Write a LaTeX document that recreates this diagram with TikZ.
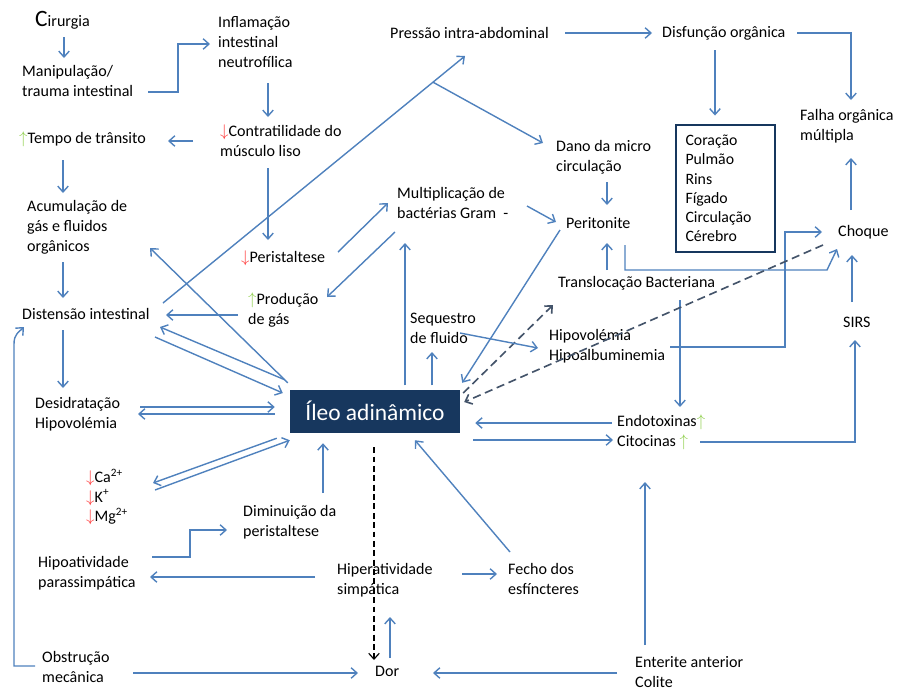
\documentclass[tikz,border=0pt]{standalone}
\usepackage{fontspec}
\setmainfont{Carlito}
\usetikzlibrary{arrows.meta, calc}
\definecolor{linkblue}{HTML}{4F81BD}
\definecolor{navy}{HTML}{17375E}
\definecolor{dashgrey}{HTML}{44546A}
\definecolor{arrred}{HTML}{FF3B3B}
\definecolor{arrgreen}{HTML}{92D050}
\newcommand{\txt}{\fontsize{13.7}{17}\selectfont}
\newcommand{\arrdn}{\textcolor{arrred}{$\downarrow$}}
\newcommand{\arrup}{\textcolor{arrgreen}{$\uparrow$}}
\tikzstyle{lbl}=[anchor=west, inner sep=0pt, align=left, font=\txt]
\tikzstyle{conn}=[draw=linkblue, line width=1.2pt]
\tikzstyle{dashconn}=[draw=dashgrey, line width=1.4pt, dash pattern=on 7pt off 4pt]
\tikzstyle{darkdash}=[draw=black, line width=1pt, dash pattern=on 5pt off 3pt]

\begin{document}
\begin{tikzpicture}[x=0.03cm, y=-0.03cm, >={Straight Barb[length=5pt,width=9pt]}]
  \useasboundingbox (0,0) rectangle (898,690);
  \node[lbl] (cir) at (35,20) {{\fontsize{20}{20}\selectfont C}irurgia};
  \node[lbl] (manip) at (22,81) {Manipulação/\\trauma intestinal};
  \node[lbl] (infl) at (218,42) {Inflamação\\intestinal\\neutrofílica};
  \node[lbl] (contr) at (220,141) {\arrdn Contratilidade do\\músculo liso};
  \node[lbl] (tempo) at (19,139) {\arrup Tempo de trânsito};
  \node[lbl] (acum) at (27,227) {Acumulação de\\gás e fluidos\\orgânicos};
  \node[lbl] (dist) at (22,314) {Distensão intestinal};
  \node[lbl] (desid) at (35,414) {Desidratação\\Hipovolémia};
  \node[lbl] (ions) at (86,497) {\arrdn Ca\textsuperscript{2+}\\\arrdn K\textsuperscript{+}\\\arrdn Mg\textsuperscript{2+}};
  \node[lbl] (dimin) at (243,522) {Diminuição da\\peristaltese};
  \node[lbl] (hipoa) at (38,573) {Hipoatividade\\parassimpática};
  \node[lbl] (obst) at (42,667) {Obstrução\\mecânica};
  \node[lbl] (dor) at (375,671) {Dor};
  \node[lbl] (hiper) at (337,580) {Hiperatividade\\simpática};
  \node[lbl] (fecho) at (508,579) {Fecho dos\\esfíncteres};
  \node[lbl] (enter) at (635,672) {Enterite anterior\\Colite};
  \node[lbl] (endo) at (617,432.5) {Endotoxinas\arrup\\Citocinas \arrup};
  \node[lbl] (sirs) at (843,322) {SIRS};
  \node[lbl] (choque) at (838,232) {Choque};
  \node[lbl] (falha) at (800,126) {Falha orgânica\\múltipla};
  \node[lbl] (disf) at (662,33) {Disfunção orgânica};
  \node[lbl] (press) at (390,33) {Pressão intra-abdominal};
  \node[lbl] (dano) at (556,157) {Dano da micro\\circulação};
  \node[lbl] (perit) at (566,223) {Peritonite};
  \node[lbl] (mult) at (397,203) {Multiplicação de\\bactérias Gram~~-};
  \node[lbl] (perist) at (241,258) {\arrdn Peristaltese};
  \node[lbl] (prod) at (248,310) {\arrup Produção\\de gás};
  \node[lbl] (transl) at (558,283) {Translocação Bacteriana};
  \node[lbl] (seq) at (410,328) {Sequestro\\de fluido};
  \node[lbl] (hipov) at (549,346) {Hipovolémia\\Hipoalbuminemia};
  \node[fill=navy, text=white, minimum width=5.1cm, minimum height=1.29cm, inner sep=0pt,
        font=\fontsize{20}{24}\selectfont] (ileo) at (375,411) {Íleo adinâmico};
  \node[draw=navy, line width=2.5pt, text width=2.4cm, inner xsep=0.285cm, minimum height=3.81cm,
        align=left, font=\fontsize{13.5}{16.4}\selectfont] (orgaos) at (725.5,188.5)
        {Coração\\Pulmão\\Rins\\Fígado\\Circulação\\Cérebro};

  % left column
  \draw[conn,->] ($(cir.west)+(29,17)$) -- ($(manip.west)+(42,-23)$);
  \draw[conn,->] ($(manip.west)+(126,11)$) -- ++(30,0) |- ($(infl.west)+(-8,2)$);
  \draw[conn,->] ($(infl.west)+(50,41)$) -- ($(contr.west)+(48,-24)$);
  \draw[conn,->] ($(contr.west)+(-27,0)$) -- ($(tempo.west)+(149,2)$);
  \draw[conn,->] ($(tempo.west)+(44,21)$) -- ($(acum.west)+(36,-34)$);
  \draw[conn,->] ($(acum.west)+(36,35)$) -- ($(dist.west)+(41,-16)$);
  \draw[conn,->] ($(dist.west)+(41,16)$) -- ($(desid.west)+(28,-26)$);
  \draw[conn,->] ($(contr.west)+(48,27)$) -- ($(perist.west)+(27,-18)$);
  \draw[conn,->] ($(obst.west)+(-7,-1)$) -| ($(dist.west)+(-8,30)$)
    .. controls +(0,-10) and +(-5,5) .. ($(dist.west)+(2,13)$);

  % pressure and organs
  \draw[conn,->] ($(dist.west)+(141,-11)$) -- coordinate[pos=0.894] (split) ($(press.west)+(75,23)$);
  \draw[conn,->] (split) -- ($(dano.west)+(-13,-14)$);
  \draw[conn,->] ($(press.west)+(175,0)$) -- ($(disf.west)+(-10,0)$);
  \draw[conn,->] ($(disf.west)+(53,17)$) -- ($(orgaos.north)+(-10.5,-8)$);
  \draw[conn,->] ($(disf.west)+(135,0)$) -| ($(falha.west)+(51,-26)$);
  \draw[conn,->] ($(choque.west)+(13,-22)$) -- ($(falha.west)+(51,32)$);
  \draw[conn,->] ($(sirs.west)+(9,-20)$) -- ($(choque.west)+(14,23)$);
  \draw[conn,->] ($(endo.west)+(83,9.5)$) -| ($(sirs.west)+(12,18)$);

  % bacteria and peritonitis
  \draw[conn,->] ($(dano.west)+(51,25)$) -- ($(perit.west)+(41,-18)$);
  \draw[conn,->] ($(mult.west)+(130,3)$) -- ($(perit.west)+(-10,-1)$);
  \draw[conn,->] ($(perit.west)+(-6,7)$) -- ($(ileo.north east)+(2,-6.5)$);
  \draw[conn,->] ($(transl.west)+(49,-13)$) -- ($(perit.west)+(41,20)$);
  \draw[conn,->] ($(perit.west)+(59,22)$) |- ($(choque.west)+(-11,38)$) -- ($(choque.west)+(-1,17)$);
  \draw[conn,->] ($(hipov.west)+(121,1)$) -- ++(115,0) |- ($(choque.west)+(-16,0)$);
  \draw[conn,->] ($(transl.west)+(122,17)$) -- ($(endo.west)+(63,-25.5)$);
  \draw[dashconn,->] ($(choque.west)+(-15,13)$) -- ($(ileo.east)+(4,-9)$);
  \draw[dashconn,->] ($(ileo.east)+(3,-18)$) -- ($(transl.west)+(-5,22)$);
  \draw[conn,->] ($(seq.west)+(50,5)$) -- ($(hipov.west)+(-11,2)$);
  \draw[conn,->] ($(perist.west)+(97,-6)$) -- ($(mult.west)+(-9,0)$);
  \draw[conn,->] ($(mult.west)+(-2,29)$) -- ($(prod.west)+(79,-13)$);
  \draw[conn,->] ($(ileo.north)+(30,-4)$) -- ($(mult.west)+(8,40)$);
  \draw[conn,->] ($(ileo.north)+(57,-4)$) -- ($(seq.west)+(22,24)$);
  \draw[conn,->] ($(prod.west)+(-10,5)$) -- ($(dist.west)+(144,1)$);

  % around the ileus box
  \draw[conn,->] ($(ileo.north west)+(-2,-6.5)$) -- ($(acum.west)+(123,21)$);
  \draw[conn,->] ($(ileo.north west)+(-5,-9.5)$) -- ($(dist.west)+(138,13)$);
  \draw[conn,->] ($(dist.west)+(133,23)$) -- ($(ileo.west)+(-7,-18)$);
  \draw[conn,->] ($(desid.west)+(105,-7)$) -- ($(ileo.west)+(-15,-4)$);
  \draw[conn,->] ($(ileo.west)+(-15,3)$) -- ($(desid.west)+(103,0)$);
  \draw[conn,->] ($(ileo.south west)+(-13,5.5)$) -- ($(ions.west)+(67,-14)$);
  \draw[conn,->] ($(ions.west)+(69,-7)$) -- ($(ileo.south west)+(0,7.5)$);
  \draw[conn,->] ($(dimin.west)+(80,-29)$) -- ($(ileo.south)+(-52,10.5)$);
  \draw[conn,->] ($(endo.west)+(-5,-9.5)$) -- ($(ileo.east)+(15,12)$);
  \draw[conn,->] ($(ileo.east)+(13,29)$) -- ($(endo.west)+(-4,7.5)$);

  % bottom part
  \draw[conn,->] ($(hipoa.west)+(114,-16)$) -- ++(38,0) |- ($(dimin.west)+(-16,8)$);
  \draw[conn,->] ($(hiper.west)+(-22,-3)$) -- ($(hipoa.west)+(112,4)$);
  \draw[conn,->] ($(hiper.west)+(125,-6)$) -- ($(fecho.west)+(-11,-5)$);
  \draw[conn,->] ($(fecho.west)+(2,-27)$) -- ($(ileo.south)+(40,7.5)$);
  \draw[darkdash,->] ($(ileo.south)+(-1,14.5)$) -- ($(dor.west)+(-1,-11)$);
  \draw[conn,->] ($(dor.west)+(15,-13)$) -- ($(hiper.west)+(53,37)$);
  \draw[conn,->] ($(obst.west)+(91,6)$) -- ($(dor.west)+(-17,2)$);
  \draw[conn,->] ($(enter.west)+(-18,1)$) -- ($(dor.west)+(58,2)$);
  \draw[conn,->] ($(enter.west)+(10,-27)$) -- ($(endo.west)+(28,49.5)$);
\end{tikzpicture}
\end{document}
